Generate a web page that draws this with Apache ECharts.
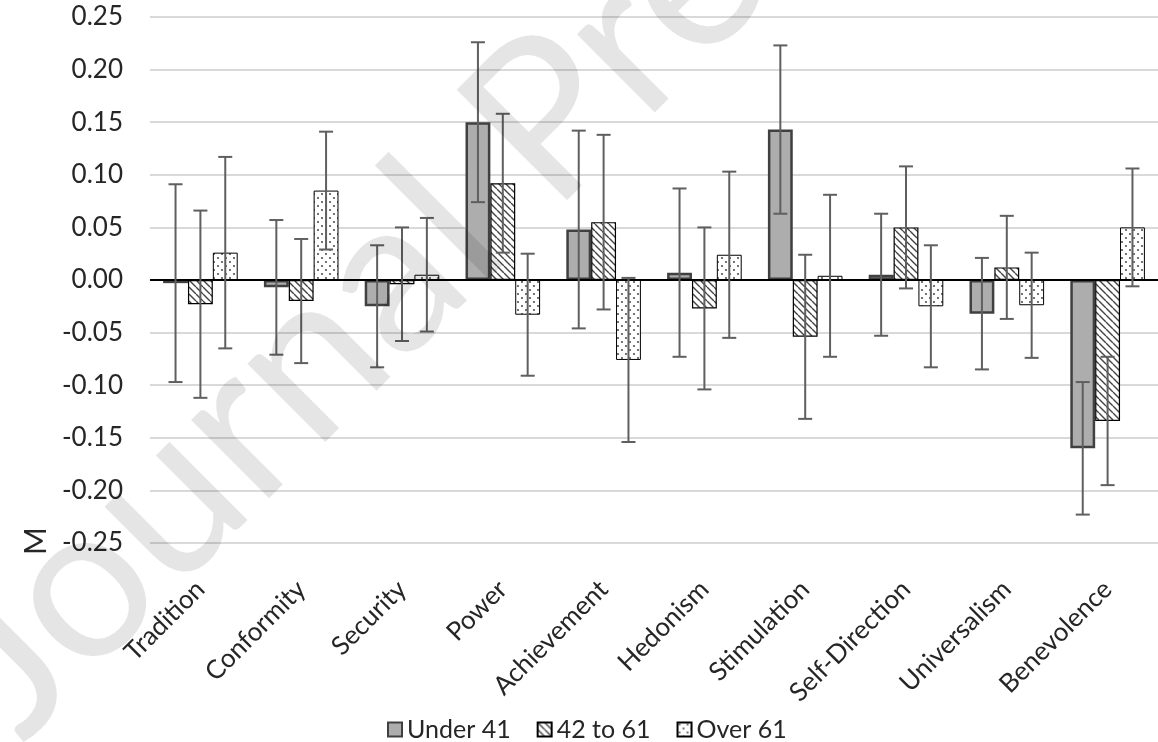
<!DOCTYPE html>
<html>
<head>
<meta charset="utf-8">
<script src="https://cdn.jsdelivr.net/npm/echarts@6/dist/echarts.min.js"></script>
<style>
html,body{margin:0;padding:0;background:#fff;}
#chart{width:1158px;height:742px;}
</style>
</head>
<body>
<div id="chart"></div>
<script>
const categories = ['Tradition','Conformity','Security','Power','Achievement','Hedonism','Stimulation','Self-Direction','Universalism','Benevolence'];
const seriesNames = ['Under 41','42 to 61','Over 61'];
const under41 =    [-0.003, -0.007, -0.025, 0.150, 0.048, 0.007, 0.143, 0.005, -0.032, -0.160];
const under41Err = [ 0.094,  0.064,  0.058, 0.076, 0.094, 0.080, 0.080, 0.058,  0.053,  0.063];
const age42to61 =  [-0.023, -0.020, -0.004, 0.092, 0.055, -0.027, -0.054, 0.050, 0.012, -0.134];
const age42Err =   [ 0.089,  0.059,  0.054, 0.066, 0.083,  0.077,  0.078, 0.058, 0.049,  0.061];
const over61 =     [ 0.026,  0.085,  0.005, -0.033, -0.076, 0.024, 0.004, -0.025, -0.024, 0.050];
const over61Err =  [ 0.091,  0.056,  0.054,  0.058,  0.078, 0.079, 0.077,  0.058,  0.050, 0.056];
const yTicks = [-0.25,-0.20,-0.15,-0.10,-0.05,0.00,0.05,0.10,0.15,0.20,0.25];

function hatch(){
  const c=document.createElement('canvas'); c.width=7; c.height=7;
  const g=c.getContext('2d');
  g.fillStyle='#fff'; g.fillRect(0,0,7,7);
  g.strokeStyle='#444'; g.lineWidth=1.4;
  g.beginPath();
  for(const k of [-7,0,7]){ g.moveTo(k,0); g.lineTo(k+7,7); }
  g.stroke();
  return c;
}
function dots(){
  const c=document.createElement('canvas'); c.width=8; c.height=8;
  const g=c.getContext('2d');
  g.fillStyle='#fff'; g.fillRect(0,0,8,8);
  g.fillStyle='#333';
  g.beginPath(); g.arc(2,2,0.9,0,Math.PI*2); g.fill();
  g.beginPath(); g.arc(6,6,0.9,0,Math.PI*2); g.fill();
  return c;
}

const values = [under41, age42to61, over61];
const errs = [under41Err, age42Err, over61Err];
const CAT_GAP = 0.26;
const FONT = 'Lato';

const chart = echarts.init(document.getElementById('chart'), null, {renderer:'canvas'});

const barStyles = [
  {color:'#adadad', borderColor:'#404040', borderWidth:2.5},
  {color:{image:hatch(), repeat:'repeat'}, borderColor:'#000', borderWidth:1.2},
  {color:{image:dots(), repeat:'repeat'}, borderColor:'#000', borderWidth:1}
];

const series = [];
seriesNames.forEach((n,i)=>{
  series.push({
    name:n, type:'bar', barGap:'0%', barCategoryGap:(CAT_GAP*100)+'%',
    data:values[i], itemStyle:barStyles[i], z:2,
    markLine: i===0 ? {silent:true, symbol:'none', label:{show:false},
      lineStyle:{color:'#000', width:2, type:'solid'}, data:[{yAxis:0}], z:5, animation:false} : undefined
  });
});
seriesNames.forEach((n,i)=>{
  series.push({
    type:'custom', name:n+' err', z:6, silent:true,
    data: categories.map((c,j)=>[j, values[i][j]-errs[i][j], values[i][j]+errs[i][j]]),
    renderItem:function(params, api){
      const j = api.value(0);
      const lo = api.coord([j, api.value(1)]);
      const hi = api.coord([j, api.value(2)]);
      const band = api.size([1,0])[0];
      const bw = band*(1-CAT_GAP)/3;
      const x = lo[0] + (i-1)*bw;
      const cap = 7;
      const st = {stroke:'#5f5f5f', lineWidth:2, fill:null};
      return {type:'group', children:[
        {type:'line', shape:{x1:x,y1:lo[1],x2:x,y2:hi[1]}, style:st},
        {type:'line', shape:{x1:x-cap,y1:lo[1],x2:x+cap,y2:lo[1]}, style:st},
        {type:'line', shape:{x1:x-cap,y1:hi[1],x2:x+cap,y2:hi[1]}, style:st}
      ]};
    }
  });
});

chart.setOption({
  animation:false,
  backgroundColor:'#fff',
  textStyle:{fontFamily:FONT},
  grid:{left:150, top:17, width:1017, height:526, containLabel:false},
  legend:{
    data:seriesNames, left:382, top:712, icon:'rect', itemWidth:14, itemHeight:14, itemGap:26,
    textStyle:{fontFamily:FONT, fontSize:25, color:'#262626'}
  },
  xAxis:{
    type:'category', data:categories,
    axisLine:{show:false}, axisTick:{show:false},
    axisLabel:{rotate:45, interval:0, margin:42, fontSize:26, color:'#262626', fontFamily:FONT}
  },
  yAxis:{
    type:'value', min:yTicks[0], max:yTicks[yTicks.length-1], interval:0.05,
    axisLine:{show:false}, axisTick:{show:false},
    axisLabel:{fontSize:26, color:'#262626', margin:27, fontFamily:FONT, formatter:v=>v.toFixed(2)},
    splitLine:{lineStyle:{color:'#d9d9d9', width:2}}
  },
  graphic:[
    {type:'text', x:36, y:541, rotation:Math.PI/2, silent:true,
      style:{text:'M', fontSize:30, fontFamily:FONT, fill:'#262626', textAlign:'center', textVerticalAlign:'middle'}},
    {type:'text', x:50, y:772, rotation:Math.PI/4, silent:true, z:100,
      style:{text:'Journal Pre-proof', fontSize:218, fontFamily:FONT, fill:'rgba(0,0,0,0.1)', textAlign:'left', textVerticalAlign:'bottom'}}
  ],
  series:series
});
</script>
</body>
</html>
